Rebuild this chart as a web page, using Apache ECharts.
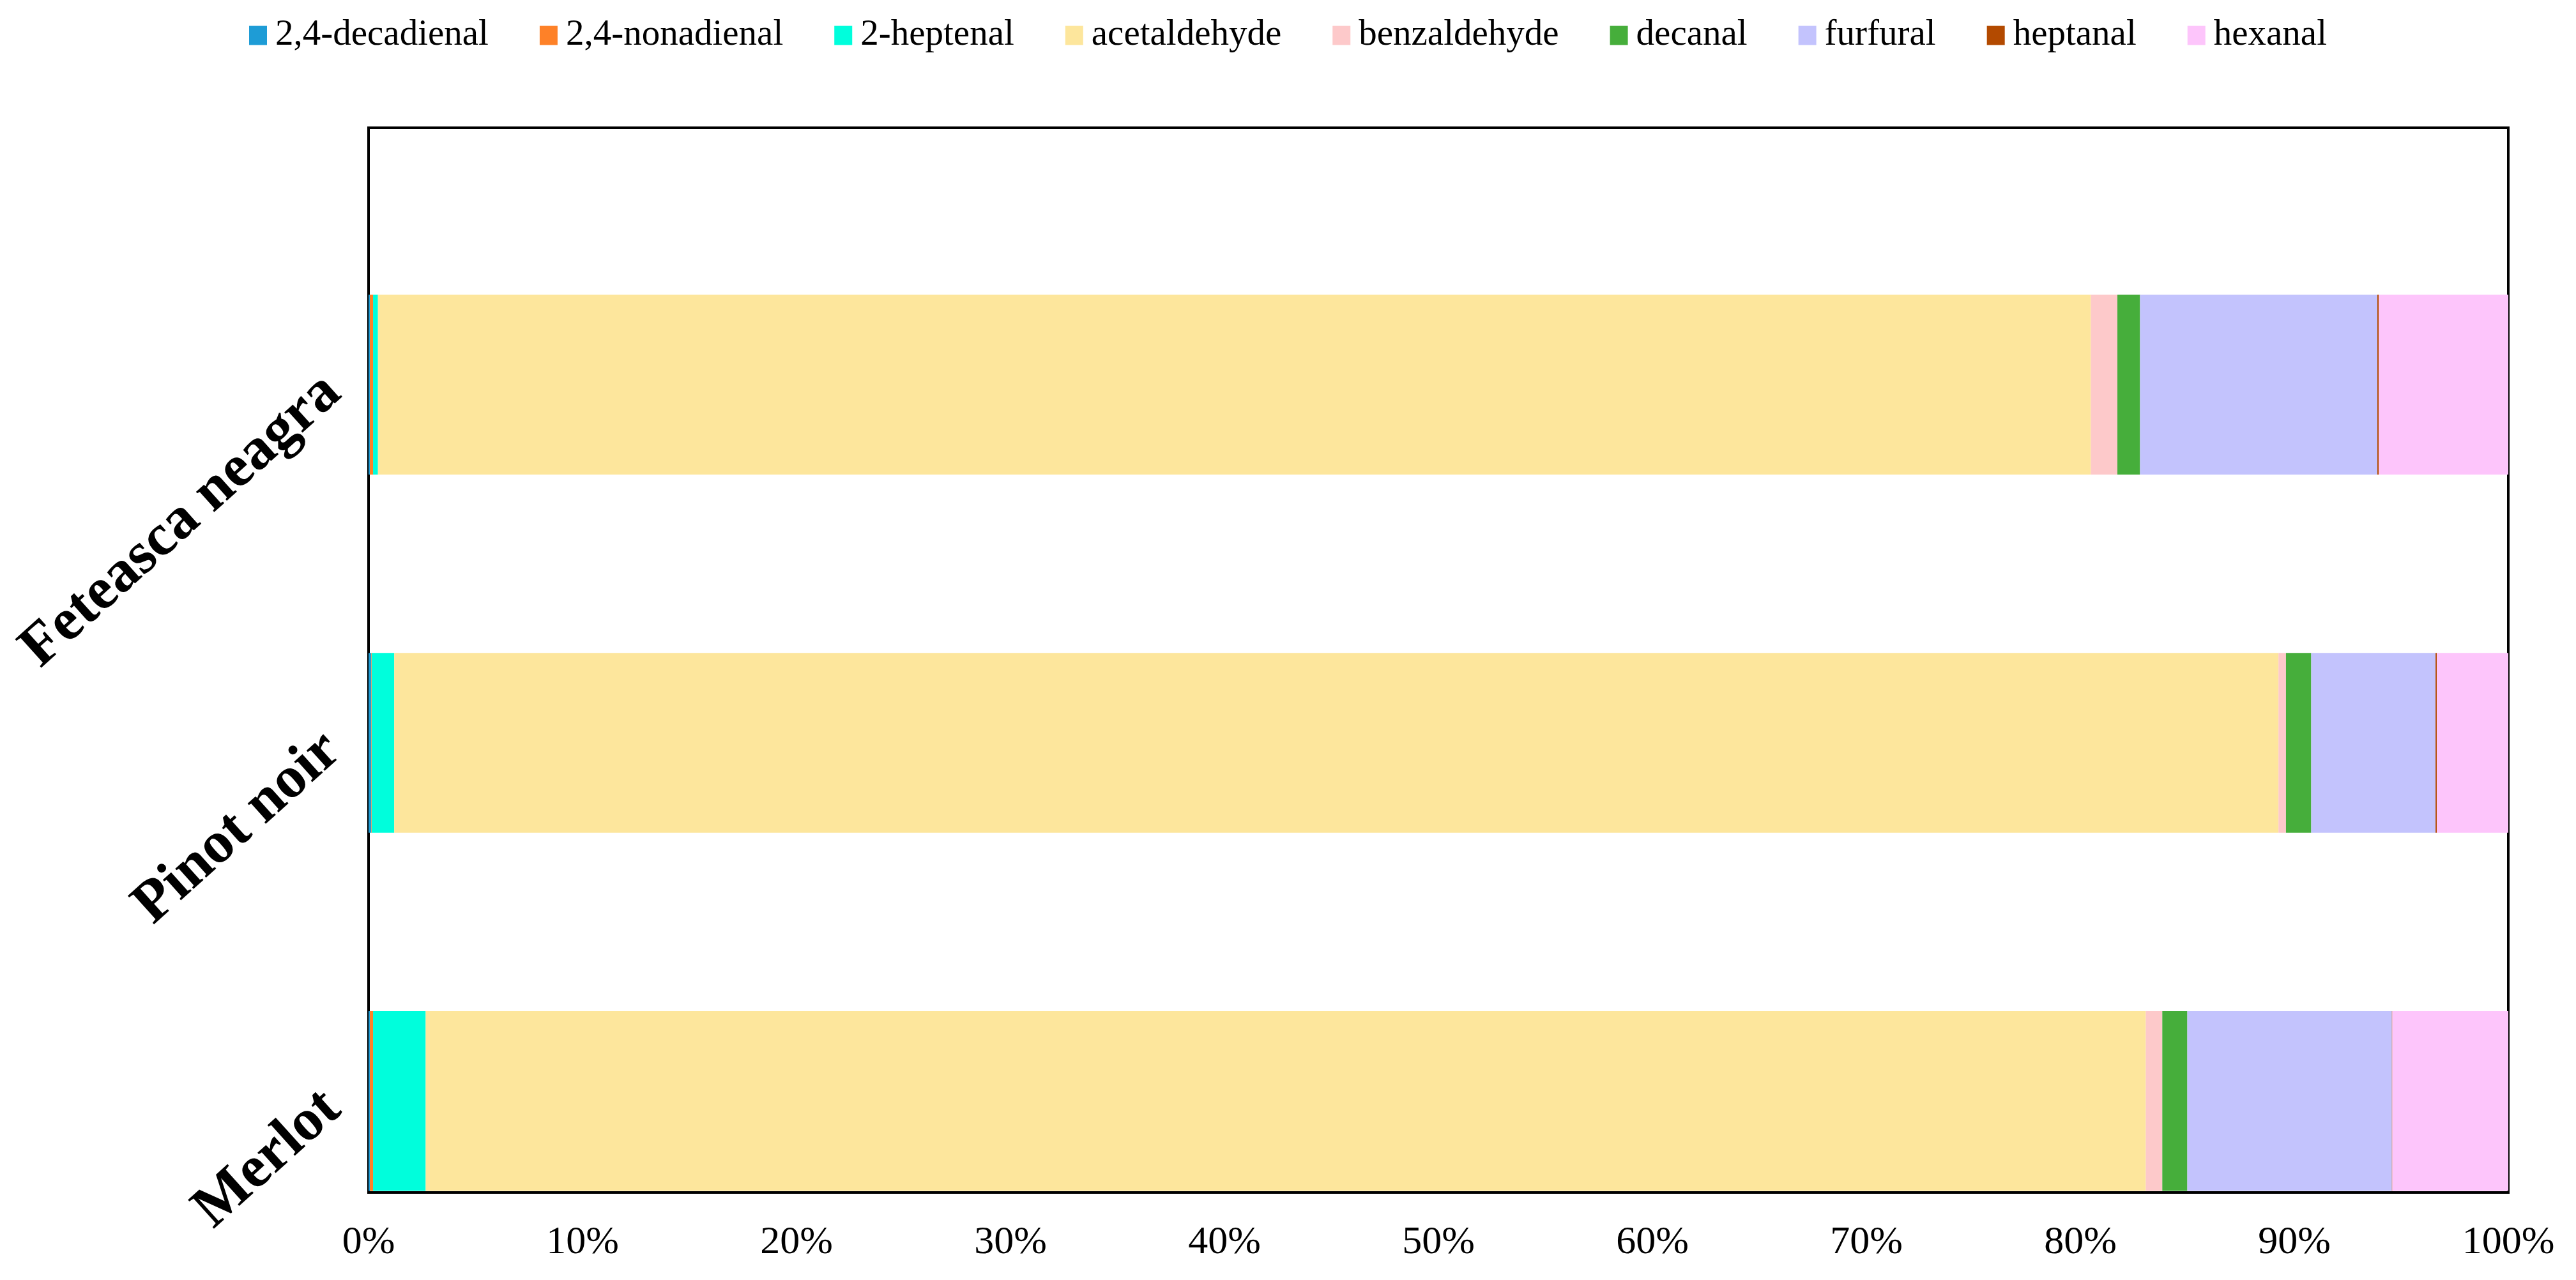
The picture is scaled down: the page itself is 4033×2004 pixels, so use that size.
<!DOCTYPE html>
<html>
<head>
<meta charset="utf-8">
<script src="https://cdn.jsdelivr.net/npm/echarts@6/dist/echarts.min.js"></script>
<style>
  html, body { margin: 0; padding: 0; background: #fff; }
  #chart { width: 4033px; height: 2004px; }
</style>
</head>
<body>
<div id="chart"></div>
<script>
// wine varieties, top to bottom
var varieties = ['Feteasca neagra', 'Pinot noir', 'Merlot'];

// share of each aldehyde (%), order as varieties
var decadienal   = [0.06, 0.13, 0.06];
var nonadienal   = [0.15, 0.02, 0.15];
var heptenal     = [0.23, 1.05, 2.46];
var acetaldehyde = [80.05, 88.06, 80.39];
var benzaldehyde = [1.24, 0.35, 0.77];
var decanal      = [1.06, 1.18, 1.17];
var furfural     = [11.09, 5.81, 9.56];
var heptanal     = [0.07, 0.06, 0.02];
var hexanal      = [6.05, 3.34, 5.42];

var xTicks = [0, 10, 20, 30, 40, 50, 60, 70, 80, 90, 100];

var names  = ['2,4-decadienal', '2,4-nonadienal', '2-heptenal', 'acetaldehyde', 'benzaldehyde', 'decanal', 'furfural', 'heptanal', 'hexanal'];
var values = [decadienal, nonadienal, heptenal, acetaldehyde, benzaldehyde, decanal, furfural, heptanal, hexanal];
var colors = ['#1e9cd6', '#fe8128', '#00fedc', '#fde69c', '#fdc9ca', '#46ae3b', '#c3c3fd', '#b34a00', '#fdc5fb'];

var serif = "'Liberation Serif', 'Times New Roman', serif";

var series = [];
for (var i = 0; i < names.length; i++) {
    series.push({
        name: names[i],
        type: 'bar',
        stack: 'total',
        xAxisIndex: 0,
        yAxisIndex: 0,
        barCategoryGap: '49.8%',
        itemStyle: {color: colors[i]},
        data: values[i]
    });
}

var myChart = echarts.init(document.getElementById('chart'));
var option = {
    animation: false,
    color: colors,
    legend: {
        top: 22,
        left: 'center',
        icon: 'rect',
        itemWidth: 28,
        itemHeight: 30,
        itemGap: 80,
        textStyle: {fontFamily: serif, fontSize: 57, color: '#000', padding: [0, 0, 0, 8]},
        data: names
    },
    grid: [
        // bars
        {left: 577, right: 106, top: 322, height: 1684},
        // frame + x labels
        {left: 577, right: 106, top: 200, bottom: 137, show: true, borderColor: '#000', borderWidth: 4, backgroundColor: 'transparent'}
    ],
    xAxis: [
        {gridIndex: 0, type: 'value', min: 0, max: 100, show: false},
        {
            gridIndex: 1, type: 'value', min: 0, max: 100, interval: 10,
            axisLine: {show: false},
            axisTick: {show: false},
            splitLine: {show: false},
            axisLabel: {
                fontFamily: serif, fontSize: 62, color: '#000', margin: 48,
                formatter: function (v) { return xTicks.indexOf(v) >= 0 ? v + '%' : ''; }
            }
        }
    ],
    yAxis: [
        {
            gridIndex: 0, type: 'category', inverse: true, data: varieties,
            axisLine: {show: false},
            axisTick: {show: false},
            axisLabel: {
                rotate: 42, margin: 56,
                fontFamily: serif, fontSize: 93, fontWeight: 'bold', color: '#000'
            }
        },
        {gridIndex: 1, type: 'value', show: false}
    ],
    series: series
};
myChart.setOption(option);
</script>
</body>
</html>
